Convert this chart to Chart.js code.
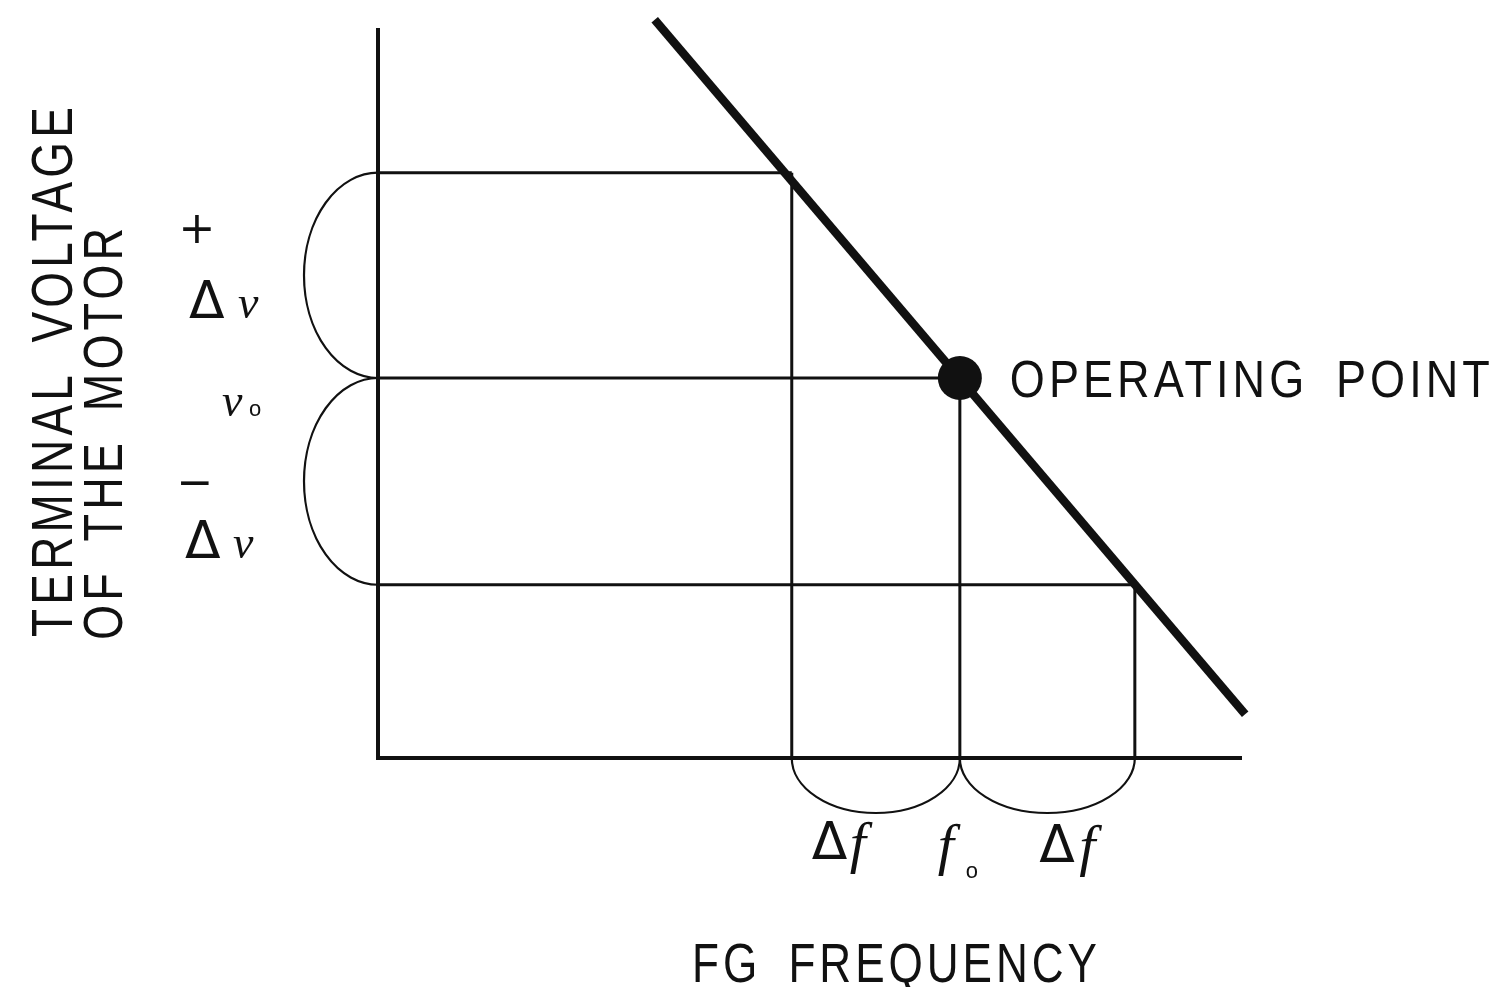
<!DOCTYPE html>
<html>
<head>
<meta charset="utf-8">
<script src="https://cdn.jsdelivr.net/npm/chart.js@4"></script>
<style>
html,body{margin:0;padding:0;background:#fff;}
#wrap{width:1511px;height:987px;position:relative;}
</style>
</head>
<body>
<div id="wrap"><canvas id="c"></canvas></div>
<script>
// ---- data (arbitrary units: frequency 0..100, voltage 0..100) ----
const freqValues = [48.0, 67.5, 87.8];          // f0-Δf, f0, f0+Δf
const voltValues = [80.4, 52.2, 23.8];          // v0+Δv, v0, v0-Δv
const characteristicX = [32.1, 100.6];          // motor characteristic line
const characteristicY = [101.4, 6.0];
const operatingPoint = [67.5, 52.2];            // (f0, v0)
const axisMax = [100, 100];
const xTitle = 'FG FREQUENCY';
const yTitle = ['TERMINAL VOLTAGE', 'OF THE MOTOR'];
const pointLabel = 'OPERATING POINT';

const INK = '#111111';
const seg = (a, b) => [{x: a[0], y: a[1]}, {x: b[0], y: b[1]}];

const datasets = [];
datasets.push({ data: [{x: operatingPoint[0], y: operatingPoint[1]}], showLine: false,
  pointRadius: 22, pointBackgroundColor: INK, pointBorderColor: INK, pointBorderWidth: 0, clip: false });
datasets.push({ data: seg([characteristicX[0], characteristicY[0]], [characteristicX[1], characteristicY[1]]),
  showLine: true, borderColor: INK, borderWidth: 8.5, pointRadius: 0, borderCapStyle: 'butt', clip: false });
// axes
datasets.push({ data: seg([0, 0], [0, axisMax[1]]), showLine: true, borderColor: INK, borderWidth: 4, pointRadius: 0, clip: false, borderCapStyle: 'square' });
datasets.push({ data: seg([0, 0], [axisMax[0], 0]), showLine: true, borderColor: INK, borderWidth: 4, pointRadius: 0, clip: false, borderCapStyle: 'square' });
// projection lines
for (let i = 0; i < 3; i++) {
  datasets.push({ data: seg([0, voltValues[i]], [freqValues[i], voltValues[i]]), showLine: true,
    borderColor: INK, borderWidth: 3, pointRadius: 0, clip: false });
  datasets.push({ data: seg([freqValues[i], voltValues[i]], [freqValues[i], 0]), showLine: true,
    borderColor: INK, borderWidth: 3, pointRadius: 0, clip: false });
}

const annot = {
  id: 'annot',
  afterDraw(chart) {
    const ctx = chart.ctx, xs = chart.scales.x, ys = chart.scales.y;
    const X = v => xs.getPixelForValue(v), Y = v => ys.getPixelForValue(v);
    ctx.save();
    ctx.strokeStyle = INK; ctx.fillStyle = INK; ctx.lineWidth = 2.2;
    // left braces (half ellipses)
    const x0 = X(0);
    for (let i = 0; i < 2; i++) {
      const a = Y(voltValues[i]), b = Y(voltValues[i + 1]);
      ctx.beginPath();
      ctx.ellipse(x0, (a + b) / 2, 74, (b - a) / 2, 0, Math.PI / 2, Math.PI * 1.5);
      ctx.stroke();
    }
    // bottom braces
    const y0 = Y(0);
    for (let i = 0; i < 2; i++) {
      const a = X(freqValues[i]), b = X(freqValues[i + 1]);
      ctx.beginPath();
      ctx.ellipse((a + b) / 2, y0, (b - a) / 2, 55, 0, 0, Math.PI);
      ctx.stroke();
    }
    const T = (s, x, y, font, align) => {
      ctx.font = font; ctx.textAlign = align || 'left';
      ctx.letterSpacing = '0px'; ctx.wordSpacing = '0px';
      ctx.fillText(s, x, y);
    };
    const SANS = '"Liberation Sans", Arial, sans-serif';
    const SERIF = '"Liberation Serif", serif';
    // lettering: spaced capitals fitted to a target width
    const L = (s, x, y, px, targetW, rot) => {
      ctx.save();
      ctx.translate(x, y);
      if (rot) ctx.rotate(rot);
      ctx.font = px + 'px ' + SANS;
      ctx.textAlign = 'left'; ctx.textBaseline = 'alphabetic';
      const sp = px * 0.09;
      ctx.letterSpacing = sp + 'px';
      ctx.wordSpacing = (px * 0.25) + 'px';
      const w = ctx.measureText(s).width - sp;
      ctx.scale(targetW / w, 1);
      ctx.fillText(s, 0, 0);
      ctx.restore();
    };
    ctx.textBaseline = 'alphabetic';
    // axis titles
    L(xTitle, 692, 982, 55, 405, 0);
    L(yTitle[0], 72, 637, 57, 530, -Math.PI / 2);
    L(yTitle[1], 122, 640, 55, 412, -Math.PI / 2);
    // operating point label
    L(pointLabel, X(operatingPoint[0]) + 50, Y(operatingPoint[1]) + 19, 51, 480, 0);
    // voltage labels
    const ym0 = (Y(voltValues[0]) + Y(voltValues[1])) / 2;
    const ym1 = (Y(voltValues[1]) + Y(voltValues[2])) / 2;
    const THIN = '44px "DejaVu Sans", sans-serif';
    const DELTA = '52px "DejaVu Sans", sans-serif';
    ctx.textBaseline = 'middle';
    T('+', 197, ym0 - 44, THIN, 'center');
    ctx.textBaseline = 'alphabetic';
    T('Δ', 189, ym0 + 43, DELTA, 'left');
    T('v', 238, ym0 + 43, 'italic 46px ' + SERIF, 'left');
    T('v', 222, Y(voltValues[1]) + 38, 'italic 46px ' + SERIF, 'left');
    T('o', 249, Y(voltValues[1]) + 38, '22px ' + SANS, 'left');
    ctx.textBaseline = 'middle';
    T('−', 195, ym1 + 4, THIN, 'center');
    ctx.textBaseline = 'alphabetic';
    T('Δ', 185, ym1 + 77, DELTA, 'left');
    T('v', 233, ym1 + 77, 'italic 46px ' + SERIF, 'left');
    // frequency labels
    const xm0 = (X(freqValues[0]) + X(freqValues[1])) / 2;
    const xm1 = (X(freqValues[1]) + X(freqValues[2])) / 2;
    T('Δ', xm0 - 64, Y(0) + 101, DELTA, 'left');
    T('f', xm0 - 26, Y(0) + 104, 'italic 58px ' + SERIF, 'left');
    T('f', X(freqValues[1]) - 22, Y(0) + 106, 'italic 58px ' + SERIF, 'left');
    T('o', X(freqValues[1]) + 6, Y(0) + 120, '22px ' + SANS, 'left');
    T('Δ', xm1 - 8, Y(0) + 104, DELTA, 'left');
    T('f', xm1 + 32, Y(0) + 107, 'italic 58px ' + SERIF, 'left');
    ctx.restore();
  }
};

new Chart(document.getElementById('c'), {
  type: 'scatter',
  data: { datasets },
  options: {
    responsive: true, maintainAspectRatio: false, animation: false,
    layout: { padding: { left: 378, right: 271, top: 30, bottom: 229 } },
    plugins: { legend: { display: false }, tooltip: { enabled: false } },
    scales: {
      x: { type: 'linear', min: 0, max: axisMax[0], display: false },
      y: { type: 'linear', min: 0, max: axisMax[1], display: false }
    }
  },
  plugins: [annot]
});
</script>
</body>
</html>
